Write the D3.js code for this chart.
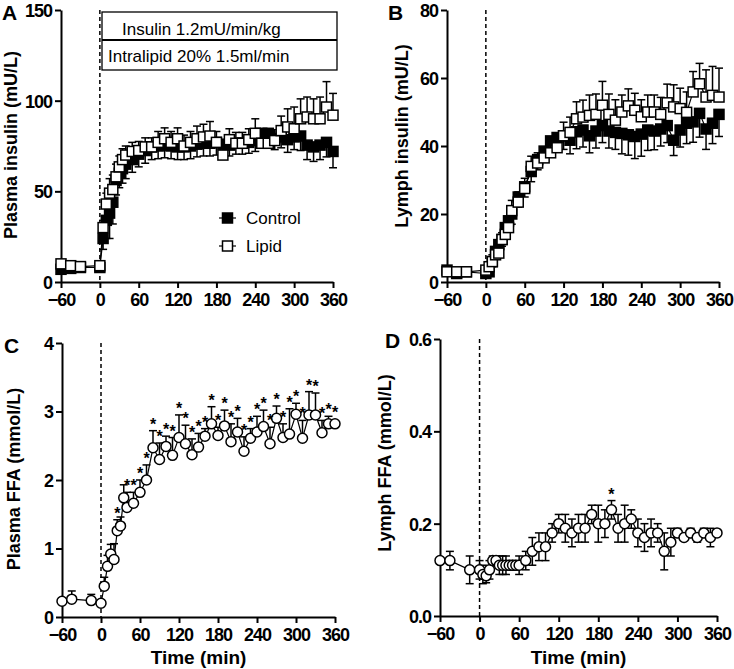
<!DOCTYPE html>
<html>
<head>
<meta charset="utf-8">
<script src="https://cdn.jsdelivr.net/npm/d3@7"></script>
<style>
  body { margin: 0; background: #fff; }
  text { font-family: "Liberation Sans", Arial, sans-serif; }
</style>
</head>
<body>
<script>
// time points (min)
const timesAB = [-60, -45, -30, 0, 5, 10, 15, 20, 25, 30, 35, 40, 50, 60, 70, 80, 90, 100, 110, 120, 130, 140, 150, 160, 170, 180, 190, 200, 210, 220, 230, 240, 250, 260, 270, 280, 290, 300, 310, 320, 330, 340, 350, 360];
const timesC = [-60, -45, -15, 0, 5, 10, 15, 20, 25, 30, 35, 40, 50, 60, 70, 80, 90, 100, 110, 120, 130, 140, 150, 160, 170, 180, 190, 200, 210, 220, 230, 240, 250, 260, 270, 280, 290, 300, 310, 320, 330, 340, 350, 360];
const timesD = [-60, -45, -15, 0, 5, 10, 15, 20, 25, 30, 35, 40, 45, 50, 55, 60, 70, 80, 90, 100, 110, 120, 130, 140, 150, 160, 170, 180, 190, 200, 210, 220, 230, 240, 250, 260, 270, 280, 290, 300, 310, 320, 330, 340, 350, 360];
const xTicks = [-60, 0, 60, 120, 180, 240, 300, 360];

// A - plasma insulin (mU/L)
const plasmaInsControl = [7, 7.5, 8, 8, 24, 34, 38, 44, 56, 60, 62.5, 65, 67.5, 70.5, 72.5, 74.5, 75, 75.5, 75, 74.5, 74.5, 75, 76, 76.5, 76.5, 77, 76, 75.5, 76.5, 76.5, 77, 78, 82, 82, 79, 80, 78.5, 80, 80.5, 75.5, 74.5, 75.5, 77, 72];
const plasmaInsControlErr = [1, 1, 1, 1, 6, 10, 14, 12, 8, 8, 8, 8, 7, 7, 7, 7, 7, 7, 7, 7, 7, 7, 7, 7, 7, 7, 6, 6, 6, 6, 6, 6, 6, 6, 6, 6, 7, 7, 8, 8, 8, 8, 8, 9];
const plasmaInsLipid = [10, 9, 8.5, 9, 30, 43, 49, 51, 58, 63.5, 67.5, 70, 72, 72.5, 74.5, 74.5, 77, 79, 77, 79, 75, 77, 79, 80, 80.5, 77, 70, 78.5, 76.5, 76.5, 78.5, 82, 76.5, 76.5, 78, 83.5, 85.5, 84.5, 90, 91, 90, 90, 96.5, 92];
const plasmaInsLipidErr = [1, 1, 1, 1, 4, 6, 8, 8, 7, 6, 6, 5, 5, 5, 5, 5, 6, 6, 6, 6, 6, 6, 7, 7, 8, 6, 6, 6, 6, 6, 6, 8, 6, 6, 6, 8, 10, 12, 11, 11, 11, 12, 14, 12];

// B - lymph insulin (mU/L)
const lymphInsControl = [3.5, 2.5, 3, 2.5, 3, 6, 9, 11, 12.5, 16, 18, 20, 25, 28, 32.5, 36, 38.5, 41.5, 42.5, 43, 41.7, 44.2, 44.7, 43, 44.4, 46, 44.4, 44, 43.7, 43.3, 42.8, 43.5, 44.7, 44.4, 45, 46, 41.7, 44.7, 46.7, 47.1, 49.6, 45, 46.7, 49.3];
const lymphInsControlErr = [1, 1, 1, 1, 1, 1.5, 2, 2, 2, 2.5, 3, 3, 3, 3, 3, 3, 3, 3, 3.5, 4, 4, 5, 5, 5, 5, 5, 5, 5, 6, 6, 6.5, 6.5, 6, 5.5, 5, 5, 4.5, 5, 6, 6, 7, 6, 6, 6.5];
const lymphInsLipid = [3, 3, 3, 3.5, 4.5, 6, 8, 8.5, 12.5, 14, 16, 21, 23.5, 27.5, 34, 35, 36.5, 38, 39.5, 43, 44, 48, 48.5, 49, 49.3, 52, 49.3, 47.6, 50, 51.8, 50.5, 48.6, 50, 50, 49.3, 52.7, 51.5, 51, 49.9, 55.9, 58.3, 54.4, 54.9, 54.4];
const lymphInsLipidErr = [0.5, 0.5, 0.5, 0.5, 1, 2, 2, 2, 2, 2.5, 2.5, 3, 3, 3, 3, 3, 3, 3, 3.5, 4, 4.5, 5, 5, 6, 6, 7, 6, 6, 5, 5, 5, 5, 5, 5, 5, 5.5, 6.5, 6, 6, 6, 6, 8, 8.5, 8.5];

// C - plasma FFA (mmol/L)
const plasmaFFA = [0.23, 0.26, 0.24, 0.20, 0.45, 0.74, 0.92, 0.84, 1.26, 1.33, 1.74, 1.60, 1.66, 1.82, 2.00, 2.47, 2.30, 2.49, 2.36, 2.62, 2.53, 2.37, 2.48, 2.64, 2.82, 2.65, 2.79, 2.56, 2.70, 2.42, 2.61, 2.70, 2.78, 2.53, 2.90, 2.62, 2.67, 2.96, 2.61, 2.95, 2.95, 2.69, 2.82, 2.82];
const plasmaFFAErr = [0, 0.12, 0.09, 0, 0.13, 0.16, 0.14, 0.23, 0.16, 0.13, 0.19, 0.22, 0.16, 0.18, 0.22, 0.25, 0.24, 0.15, 0.26, 0.33, 0.27, 0.23, 0.2, 0.11, 0.25, 0.12, 0.23, 0.26, 0.2, 0.21, 0.14, 0.23, 0.24, 0.24, 0.18, 0.2, 0.37, 0.16, 0.26, 0.34, 0.32, 0.18, 0.11, 0];
const plasmaFFAStars = [25, 40, 50, 60, 70, 80, 90, 100, 110, 120, 130, 140, 150, 160, 170, 180, 190, 200, 210, 220, 230, 240, 250, 260, 270, 280, 290, 300, 310, 320, 330, 340, 350, 360];

// D - lymph FFA (mmol/L)
const lymphFFA = [0.12, 0.12, 0.10, 0.10, 0.09, 0.087, 0.10, 0.12, 0.12, 0.11, 0.11, 0.11, 0.11, 0.11, 0.11, 0.11, 0.12, 0.14, 0.15, 0.15, 0.18, 0.20, 0.19, 0.18, 0.19, 0.19, 0.22, 0.20, 0.20, 0.23, 0.19, 0.20, 0.21, 0.18, 0.17, 0.18, 0.18, 0.14, 0.16, 0.18, 0.17, 0.18, 0.17, 0.18, 0.17, 0.18];
const lymphFFAErr = [0, 0.02, 0.03, 0.02, 0.02, 0.015, 0.02, 0.01, 0.01, 0.02, 0.02, 0.02, 0.01, 0.01, 0.01, 0.02, 0.02, 0.03, 0.03, 0.03, 0.02, 0.02, 0.03, 0.03, 0.03, 0.03, 0.02, 0.04, 0.03, 0.02, 0.03, 0.04, 0.02, 0.03, 0.03, 0.03, 0.02, 0.04, 0.03, 0.01, 0, 0.01, 0.01, 0.01, 0.02, 0];
const lymphFFAStars = [200];

const svg = d3.select("body").append("svg")
  .attr("width", 734)
  .attr("height", 669);

function panel(p) {
  const x = d3.scaleLinear().domain([-60, 360]).range([p.left, p.right]);
  const y = d3.scaleLinear().domain([0, p.ymax]).range([p.bottom, p.top]);
  const g = svg.append("g");

  // infusion start
  g.append("line")
    .attr("x1", x(0)).attr("x2", x(0))
    .attr("y1", y(p.ymax)).attr("y2", y(0))
    .attr("stroke", "#000")
    .attr("stroke-width", 1.5)
    .attr("stroke-dasharray", "4,3");

  const xa = g.append("g")
    .attr("transform", `translate(0,${p.bottom})`)
    .call(d3.axisBottom(x).tickValues(xTicks).tickSize(6).tickSizeOuter(0).tickPadding(2));
  const ya = g.append("g")
    .attr("transform", `translate(${p.left},0)`)
    .call(d3.axisLeft(y).tickValues(p.yTicks).tickFormat(p.fmt).tickSize(6).tickSizeOuter(0).tickPadding(3));
  [xa, ya].forEach((a) => {
    a.select(".domain").attr("stroke-width", 2);
    a.selectAll(".tick line").attr("stroke-width", 2);
    a.selectAll("text")
      .attr("font-size", 18)
      .attr("font-weight", "bold")
      .attr("letter-spacing", -1)
      .attr("fill", "#000");
  });
  xa.selectAll("text").attr("dy", "0.9em");
  ya.selectAll("text").attr("dy", "0.36em");

  g.append("text")
    .attr("transform", `translate(${p.titleX},${p.titleY}) rotate(-90)`)
    .attr("text-anchor", "middle")
    .attr("font-size", 18)
    .attr("font-weight", "bold")
    .text(p.title);

  g.append("text")
    .attr("x", p.letterX).attr("y", p.letterY)
    .attr("font-size", 21)
    .attr("font-weight", "bold")
    .text(p.letter);

  if (p.xlabel) {
    g.append("text")
      .attr("x", (p.left + p.right) / 2)
      .attr("y", 664)
      .attr("text-anchor", "middle")
      .attr("font-size", 19)
      .attr("font-weight", "bold")
      .text("Time (min)");
  }
  return { g, x, y };
}

function series(P, times, vals, errs, opt) {
  const { g, x, y } = P;
  const data = times.map((t, i) => ({ t, v: vals[i], e: errs[i] }));
  const eb = g.append("g").attr("stroke", "#000").attr("stroke-width", 1.5);
  data.filter((d) => d.e > 0).forEach((d) => {
    const ends = opt.dir === "both" ? [d.v + d.e, d.v - d.e] : [opt.dir === "up" ? d.v + d.e : d.v - d.e];
    ends.forEach((e) => {
      eb.append("line").attr("x1", x(d.t)).attr("x2", x(d.t)).attr("y1", y(d.v)).attr("y2", y(e));
      eb.append("line").attr("x1", x(d.t) - 4).attr("x2", x(d.t) + 4).attr("y1", y(e)).attr("y2", y(e));
    });
  });
  g.append("path")
    .datum(data)
    .attr("fill", "none")
    .attr("stroke", "#000")
    .attr("stroke-width", 1.2)
    .attr("d", d3.line().x((d) => x(d.t)).y((d) => y(d.v)));
  const s = 10;
  if (opt.shape === "circle") {
    g.append("g").selectAll("circle")
      .data(data)
      .join("circle")
      .attr("cx", (d) => x(d.t))
      .attr("cy", (d) => y(d.v))
      .attr("r", 5)
      .attr("fill", "#fff")
      .attr("stroke", "#000")
      .attr("stroke-width", 1.5);
  } else {
    g.append("g").selectAll("rect")
      .data(data)
      .join("rect")
      .attr("x", (d) => x(d.t) - s / 2)
      .attr("y", (d) => y(d.v) - s / 2)
      .attr("width", s)
      .attr("height", s)
      .attr("fill", opt.filled ? "#000" : "#fff")
      .attr("stroke", "#000")
      .attr("stroke-width", 1.5);
  }
  if (opt.stars) {
    g.append("g").selectAll("text")
      .data(data.filter((d) => opt.stars.includes(d.t)))
      .join("text")
      .attr("x", (d) => x(d.t))
      .attr("y", (d) => Math.min(y(d.v + d.e), y(d.v) - 5) - 1)
      .attr("text-anchor", "middle")
      .attr("font-size", 16)
      .attr("font-weight", "bold")
      .text("*");
  }
}

// A
const A = panel({
  left: 61, right: 333, top: 10, bottom: 282, ymax: 150, yTicks: [0, 50, 100, 150], fmt: d3.format("d"),
  title: "Plasma insulin (mU/L)", titleX: 17, titleY: 145, letter: "A", letterX: 2, letterY: 20
});
series(A, timesAB, plasmaInsControl, plasmaInsControlErr, { filled: true, dir: "down" });
series(A, timesAB, plasmaInsLipid, plasmaInsLipidErr, { filled: false, dir: "up" });

// infusion box
const box = A.g.append("g");
box.append("rect").attr("x", 102).attr("y", 12).attr("width", 235).attr("height", 58)
  .attr("fill", "#fff").attr("stroke", "#000").attr("stroke-width", 1.3);
box.append("line").attr("x1", 102).attr("x2", 337).attr("y1", 40).attr("y2", 40)
  .attr("stroke", "#000").attr("stroke-width", 2);
box.append("text").attr("x", 122).attr("y", 35).attr("font-size", 17).text("Insulin 1.2mU/min/kg");
box.append("text").attr("x", 108).attr("y", 62).attr("font-size", 17).text("Intralipid 20% 1.5ml/min");

// legend
const legendItems = [["Control", true, 218], ["Lipid", false, 246]];
legendItems.forEach(([name, filled, ly]) => {
  box.append("line").attr("x1", 219).attr("x2", 236).attr("y1", ly).attr("y2", ly)
    .attr("stroke", "#000").attr("stroke-width", 1.2);
  box.append("rect").attr("x", 222.5).attr("y", ly - 5).attr("width", 10).attr("height", 10)
    .attr("fill", filled ? "#000" : "#fff").attr("stroke", "#000").attr("stroke-width", 1.5);
  box.append("text").attr("x", 246).attr("y", ly + 6).attr("font-size", 17).text(name);
});

// B
const B = panel({
  left: 447, right: 719, top: 10, bottom: 282, ymax: 80, yTicks: [0, 20, 40, 60, 80], fmt: d3.format("d"),
  title: "Lymph insulin (mU/L)", titleX: 408, titleY: 136, letter: "B", letterX: 388, letterY: 20
});
series(B, timesAB, lymphInsControl, lymphInsControlErr, { filled: true, dir: "down" });
series(B, timesAB, lymphInsLipid, lymphInsLipidErr, { filled: false, dir: "up" });

// C
const C = panel({
  left: 62, right: 335, top: 343, bottom: 617, ymax: 4, yTicks: [0, 1, 2, 3, 4], fmt: d3.format("d"),
  title: "Plasma FFA (mmol/L)", titleX: 20, titleY: 479, letter: "C", letterX: 4, letterY: 353, xlabel: true
});
series(C, timesC, plasmaFFA, plasmaFFAErr, { shape: "circle", dir: "up", stars: plasmaFFAStars });

// D
const D = panel({
  left: 440, right: 717, top: 339, bottom: 616, ymax: 0.6, yTicks: [0, 0.2, 0.4, 0.6], fmt: d3.format(".1f"),
  title: "Lymph FFA (mmol/L)", titleX: 391, titleY: 463, letter: "D", letterX: 385, letterY: 348, xlabel: true
});
series(D, timesD, lymphFFA, lymphFFAErr, { shape: "circle", dir: "both", stars: lymphFFAStars });
</script>
</body>
</html>
